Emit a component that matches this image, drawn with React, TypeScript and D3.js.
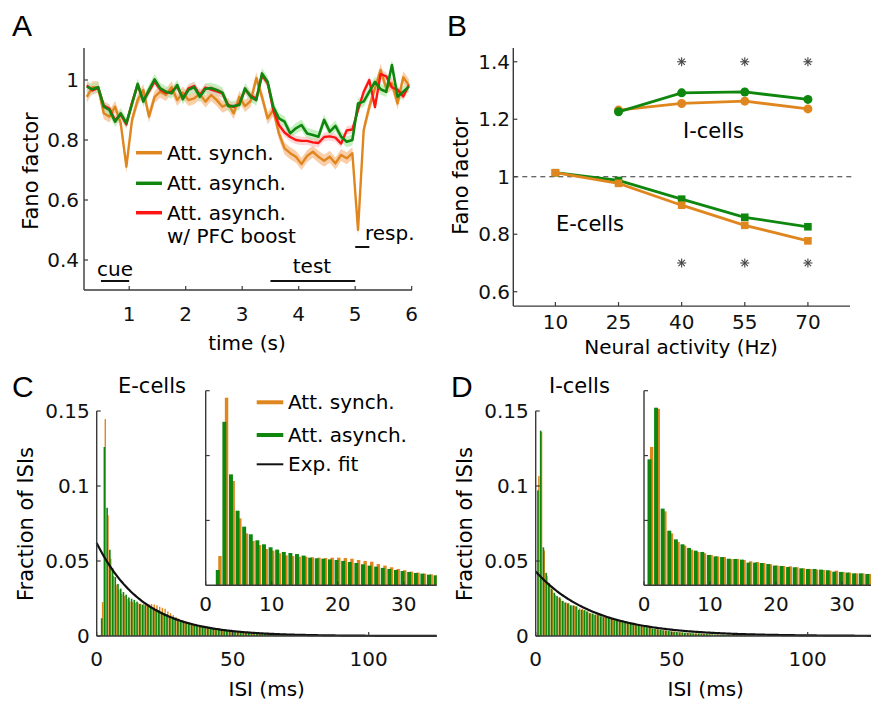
import React from 'react';
import * as d3 from 'd3';

const ORANGE = '#e0861f';
const GREEN = '#0f870f';
const RED = '#ff1414';
const AXIS = '#3a3a3a';
const FONT = 'DejaVu Sans, Verdana, sans-serif';
const LETTER_FONT = 'Liberation Sans, Arial, sans-serif';

// ---------- Panel A: Fano factor time course ----------
const timesA = [0.25, 0.35, 0.45, 0.55, 0.65, 0.75, 0.85, 0.95, 1.05, 1.15, 1.25, 1.35, 1.45, 1.55, 1.65, 1.75, 1.85, 1.95,
  2.05, 2.15, 2.25, 2.35, 2.45, 2.55, 2.65, 2.75, 2.85, 2.95, 3.05, 3.15, 3.25, 3.35, 3.45, 3.55, 3.65, 3.75, 3.85, 3.95,
  4.05, 4.15, 4.25, 4.35, 4.45, 4.55, 4.65, 4.75, 4.85, 4.95, 5.05, 5.15, 5.25, 5.35, 5.45, 5.55, 5.65, 5.75, 5.85, 5.95];
const synchA = [0.944, 0.976, 0.976, 0.889, 0.878, 0.911, 0.856, 0.711, 0.867, 0.933, 0.967, 0.878, 0.944, 0.961, 0.950, 0.976, 0.933, 0.958,
  0.933, 0.939, 0.953, 0.928, 0.950, 0.933, 0.911, 0.920, 0.889, 0.944, 0.913, 0.930, 1.006, 0.944, 0.872, 0.900, 0.822, 0.772, 0.756, 0.744,
  0.720, 0.747, 0.761, 0.744, 0.731, 0.744, 0.722, 0.750, 0.739, 0.756, 0.500, 0.833, 0.911, 0.972, 1.033, 0.972, 0.989, 0.922, 1.009, 0.983];
const asynchA = [0.978, 0.969, 0.976, 0.911, 0.900, 0.861, 0.889, 0.856, 0.920, 0.987, 0.928, 0.967, 1.002, 0.972, 0.961, 0.956, 0.983, 0.936,
  0.967, 0.976, 0.944, 0.971, 0.973, 0.967, 0.958, 0.913, 0.913, 0.917, 0.972, 0.944, 0.933, 1.022, 0.994, 0.911, 0.872, 0.861, 0.822, 0.839,
  0.850, 0.822, 0.817, 0.811, 0.867, 0.828, 0.847, 0.811, 0.794, 0.800, 0.922, 0.928, 0.961, 0.994, 0.969, 0.961, 1.050, 0.944, 0.961, 0.978];
const boostA = [0.982, 0.965, 0.974, 0.915, 0.905, 0.866, 0.885, 0.852, 0.925, 0.983, 0.932, 0.962, 0.995, 0.968, 0.957, 0.962, 0.978, 0.940,
  0.972, 0.980, 0.950, 0.975, 0.968, 0.962, 0.955, 0.917, 0.910, 0.921, 0.968, 0.948, 0.938, 1.015, 0.990, 0.900, 0.850, 0.825, 0.810, 0.800,
  0.797, 0.797, 0.792, 0.790, 0.810, 0.812, 0.808, 0.788, 0.832, 0.835, 0.900, 0.960, 1.000, 0.910, 1.020, 1.012, 0.975, 0.968, 0.945, 0.983];
const semSynch = 0.02;
const semAsynch = 0.018;
const semBoost = 0.014;
const ticksAx = [1, 2, 3, 4, 5, 6];
const ticksAy = [0.4, 0.6, 0.8, 1];
const legendA = ['Att. synch.', 'Att. asynch.', 'Att. asynch.'];

// ---------- Panel B: Fano factor vs rate ----------
const ratesE = [10, 25, 40, 55, 70];
const synchE = [1.014, 0.977, 0.901, 0.831, 0.777];
const asynchE = [1.014, 0.987, 0.922, 0.859, 0.826];
const errE = [0.004, 0.004, 0.005, 0.005, 0.005];
const ratesI = [25, 40, 55, 70];
const synchI = [1.232, 1.255, 1.263, 1.236];
const asynchI = [1.226, 1.292, 1.295, 1.269];
const errSynchI = [0.006, 0.012, 0.012, 0.011];
const errAsynchI = [0.006, 0.014, 0.014, 0.013];
const starRates = [40, 55, 70];
const starLevels = [1.4, 0.7];
const ticksBx = [10, 25, 40, 55, 70];
const ticksBy = [0.6, 0.8, 1, 1.2, 1.4];

// ---------- Panel C: E-cell ISI histograms (1 ms bins, bin k = index+1) ----------
const synchC = [0, 0.0226, 0.1446, 0.0804, 0.0516, 0.040, 0.0342, 0.031, 0.028, 0.0267, 0.0247, 0.0231, 0.0226, 0.0221, 0.0221,
  0.0216, 0.0213, 0.021, 0.0213, 0.0213, 0.021, 0.0205, 0.0195, 0.0188, 0.0182, 0.0164, 0.0152, 0.0139, 0.0126, 0.0116,
  0.0105, 0.0098, 0.009, 0.0085, 0.008, 0.0076, 0.0072, 0.0068, 0.0064, 0.006, 0.0056, 0.0052, 0.0049, 0.0046, 0.0043,
  0.004, 0.0037, 0.0035, 0.0033, 0.003, 0.0028, 0.0027, 0.0025, 0.0024, 0.0022, 0.0021, 0.0019, 0.0018, 0.0017, 0.0016,
  0.0015, 0.0014, 0.0013, 0.0012, 0.0011, 0.001, 0.00095, 0.0009, 0.00085, 0.0008, 0.00075, 0.0007, 0.00065, 0.0006, 0.00055,
  0.0005, 0.00045, 0.0004, 0.0004, 0.00035];
const asynchC = [0, 0.0118, 0.126, 0.0855, 0.0575, 0.0452, 0.0393, 0.0347, 0.0316, 0.0293, 0.0275, 0.0257, 0.0249, 0.0241, 0.0229,
  0.0213, 0.0208, 0.0205, 0.02, 0.0195, 0.0188, 0.018, 0.0172, 0.0162, 0.0152, 0.0144, 0.0134, 0.0126, 0.0118, 0.011,
  0.0103, 0.0095, 0.009, 0.0082, 0.0077, 0.0072, 0.0068, 0.0064, 0.006, 0.0056, 0.0053, 0.005, 0.0047, 0.0044, 0.0041,
  0.0039, 0.0036, 0.0034, 0.0032, 0.003, 0.0028, 0.0026, 0.0025, 0.0023, 0.0022, 0.002, 0.0019, 0.0018, 0.0017, 0.0016,
  0.0015, 0.0014, 0.0013, 0.0012, 0.0011, 0.001, 0.00095, 0.0009, 0.00085, 0.0008, 0.00075, 0.0007, 0.00065, 0.0006, 0.00055,
  0.0005, 0.00045, 0.0004, 0.0004, 0.00035];
const fitAmpC = 0.062;
const fitTauC = 17;

// ---------- Panel D: I-cell ISI histograms ----------
const synchD = [0.1066, 0.136, 0.057, 0.040, 0.0334, 0.0306, 0.0275, 0.0257, 0.0247, 0.0234, 0.0223, 0.0218, 0.0203, 0.0203, 0.0195,
  0.0185, 0.018, 0.0172, 0.0162, 0.0152, 0.0149, 0.0146, 0.0139, 0.0131, 0.0126, 0.0121, 0.0118, 0.0113, 0.0113, 0.0103,
  0.0098, 0.0092, 0.0092, 0.0087, 0.0085, 0.008, 0.0075, 0.007, 0.0066, 0.0062, 0.0058, 0.0054, 0.005, 0.0047, 0.0044,
  0.0041, 0.0038, 0.0036, 0.0033, 0.0031, 0.0029, 0.0027, 0.0025, 0.0024, 0.0022, 0.0021, 0.0019, 0.0018, 0.0017, 0.0016,
  0.0015, 0.0014, 0.0013, 0.0012, 0.0011, 0.001, 0.00095, 0.0009, 0.00085, 0.0008, 0.00075, 0.0007, 0.00065, 0.0006, 0.00055,
  0.0005, 0.00045, 0.0004, 0.0004, 0.00035];
const asynchD = [0.0971, 0.1369, 0.0591, 0.0421, 0.0354, 0.0316, 0.0288, 0.0267, 0.0257, 0.0234, 0.0223, 0.0218, 0.0205, 0.0203, 0.0198,
  0.0175, 0.0175, 0.0172, 0.0164, 0.0152, 0.0149, 0.0141, 0.0139, 0.0131, 0.0126, 0.0126, 0.0121, 0.0116, 0.0105, 0.0103,
  0.0098, 0.0092, 0.0092, 0.0087, 0.0085, 0.008, 0.0075, 0.007, 0.0066, 0.0062, 0.0058, 0.0054, 0.005, 0.0047, 0.0044,
  0.0041, 0.0038, 0.0036, 0.0033, 0.0031, 0.0029, 0.0027, 0.0025, 0.0024, 0.0022, 0.0021, 0.0019, 0.0018, 0.0017, 0.0016,
  0.0015, 0.0014, 0.0013, 0.0012, 0.0011, 0.001, 0.00095, 0.0009, 0.00085, 0.0008, 0.00075, 0.0007, 0.00065, 0.0006, 0.00055,
  0.0005, 0.00045, 0.0004, 0.0004, 0.00035];
const fitAmpD = 0.043;
const fitTauD = 21.5;

const ticksHistX = [0, 50, 100];
const ticksHistY = [0, 0.05, 0.1, 0.15];
const ticksInsetX = [0, 10, 20, 30];
const ticksInsetY = [0.05, 0.1, 0.15];
const legendC = ['Att. synch.', 'Att. asynch.', 'Exp. fit'];

type Lin = d3.ScaleLinear<number, number>;

function fmt(v: number) {
  return String(v);
}

function YAxis({ x, y, ticks, top, bottom, labels = true, labelX, fs = 20 }:
  { x: number; y: Lin; ticks: number[]; top: number; bottom: number; labels?: boolean; labelX?: number; fs?: number }) {
  return (
    <g>
      <line x1={x} x2={x} y1={top} y2={bottom} stroke={AXIS} strokeWidth={1.4} />
      {ticks.map((t) => (
        <g key={t}>
          <line x1={x} x2={x + 4} y1={y(t)} y2={y(t)} stroke={AXIS} strokeWidth={1.2} />
          {labels && (
            <text x={labelX ?? x - 5} y={y(t) + 7} textAnchor="end" fontSize={fs} fontFamily={FONT} fill="#111">
              {fmt(t)}
            </text>
          )}
        </g>
      ))}
    </g>
  );
}

function XAxis({ y0, x, ticks, left, right, labelY, fs = 20 }:
  { y0: number; x: Lin; ticks: number[]; left: number; right: number; labelY: number; fs?: number }) {
  return (
    <g>
      <line x1={left} x2={right} y1={y0} y2={y0} stroke={AXIS} strokeWidth={1.4} />
      {ticks.map((t) => (
        <g key={t}>
          <line x1={x(t)} x2={x(t)} y1={y0} y2={y0 - 4} stroke={AXIS} strokeWidth={1.2} />
          <text x={x(t)} y={labelY} textAnchor="middle" fontSize={fs} fontFamily={FONT} fill="#111">
            {fmt(t)}
          </text>
        </g>
      ))}
    </g>
  );
}

function PanelA() {
  const x = d3.scaleLinear().domain([0.2, 6]).range([84, 411.7]);
  const y = d3.scaleLinear().domain([0.3, 1.1]).range([290, 50]);
  const line = d3.line<number>().x((_, i) => x(timesA[i])).y((d) => y(d));
  const area = (sem: number) =>
    d3.area<number>().x((_, i) => x(timesA[i])).y0((d) => y(d - sem)).y1((d) => y(d + sem));
  const legColors = [ORANGE, GREEN, RED];
  const legY = [152.7, 183.3, 212.7];
  return (
    <g>
      <text x={12} y={36} fontSize={30} fontFamily={LETTER_FONT}>A</text>
      <path d={area(semSynch)(synchA) || ''} fill="#f8c59a" opacity={0.85} />
      <path d={area(semAsynch)(asynchA) || ''} fill="#b2ecab" opacity={0.75} />
      <path d={area(semBoost)(boostA) || ''} fill="#f7bcbc" opacity={0.6} />
      <path d={line(synchA) || ''} fill="none" stroke={ORANGE} strokeWidth={2.4} strokeLinejoin="round" />
      <path d={line(boostA) || ''} fill="none" stroke={RED} strokeWidth={2.4} strokeLinejoin="round" />
      <path d={line(asynchA) || ''} fill="none" stroke={GREEN} strokeWidth={2.6} strokeLinejoin="round" />
      <YAxis x={84} y={y} ticks={ticksAy} top={48} bottom={290} labelX={79} />
      <XAxis y0={290} x={x} ticks={ticksAx} left={84} right={412} labelY={321} />
      <text x={247} y={350} textAnchor="middle" fontSize={20} fontFamily={FONT}>time (s)</text>
      <text transform="translate(38,171) rotate(-90)" textAnchor="middle" fontSize={21} fontFamily={FONT}>Fano factor</text>
      {legendA.map((t, i) => (
        <g key={i}>
          <line x1={136} x2={162} y1={legY[i]} y2={legY[i]} stroke={legColors[i]} strokeWidth={3.5} />
          <text x={167} y={legY[i] + 7} fontSize={20} fontFamily={FONT}>{t}</text>
        </g>
      ))}
      <text x={167} y={243} fontSize={20} fontFamily={FONT}>w/ PFC boost</text>
      {/* epoch markers */}
      <text x={(x(0.5) + x(1.0)) / 2} y={276} textAnchor="middle" fontSize={20} fontFamily={FONT}>cue</text>
      <line x1={x(0.5)} x2={x(1.0)} y1={281} y2={281} stroke="#111" strokeWidth={2} />
      <text x={312} y={273} textAnchor="middle" fontSize={20} fontFamily={FONT}>test</text>
      <line x1={x(3.5)} x2={x(5.0)} y1={281} y2={281} stroke="#111" strokeWidth={2} />
      <text x={365} y={240} fontSize={20} fontFamily={FONT}>resp.</text>
      <line x1={x(5.0)} x2={x(5.25)} y1={247} y2={247} stroke="#111" strokeWidth={2} />
    </g>
  );
}

function Star({ cx, cy }: { cx: number; cy: number }) {
  const r = 4.5;
  return (
    <g stroke="#444" strokeWidth={1.1}>
      {[0, 45, 90, 135].map((a) => {
        const rad = (a * Math.PI) / 180;
        return <line key={a} x1={cx - r * Math.cos(rad)} y1={cy - r * Math.sin(rad)} x2={cx + r * Math.cos(rad)} y2={cy + r * Math.sin(rad)} />;
      })}
    </g>
  );
}

function PanelB() {
  const x = d3.scaleLinear().domain([0, 80]).range([513.3, 850]);
  const y = d3.scaleLinear().domain([0.55, 1.45]).range([306.1, 47.4]);
  const lineE = d3.line<number>().x((_, i) => x(ratesE[i])).y((d) => y(d));
  const lineI = d3.line<number>().x((_, i) => x(ratesI[i])).y((d) => y(d));
  const squares = (vals: number[], errs: number[], color: string) =>
    vals.map((v, i) => (
      <g key={i}>
        <line x1={x(ratesE[i])} x2={x(ratesE[i])} y1={y(v - errs[i])} y2={y(v + errs[i])} stroke={color} strokeWidth={2} />
        <rect x={x(ratesE[i]) - 3.8} y={y(v) - 3.8} width={7.6} height={7.6} fill={color} />
      </g>
    ));
  const circles = (vals: number[], errs: number[], color: string) =>
    vals.map((v, i) => (
      <g key={i}>
        <line x1={x(ratesI[i])} x2={x(ratesI[i])} y1={y(v - errs[i])} y2={y(v + errs[i])} stroke={color} strokeWidth={2} />
        <circle cx={x(ratesI[i])} cy={y(v)} r={4.5} fill={color} />
      </g>
    ));
  return (
    <g>
      <text x={447} y={36} fontSize={30} fontFamily={LETTER_FONT}>B</text>
      <line x1={513.3} x2={852} y1={y(1)} y2={y(1)} stroke="#333" strokeWidth={1} strokeDasharray="5,4" />
      <path d={lineE(asynchE) || ''} fill="none" stroke={GREEN} strokeWidth={2.8} />
      {squares(asynchE, errE, GREEN)}
      <path d={lineE(synchE) || ''} fill="none" stroke={ORANGE} strokeWidth={2.8} />
      {squares(synchE, errE, ORANGE)}
      <path d={lineI(synchI) || ''} fill="none" stroke={ORANGE} strokeWidth={2.8} />
      {circles(synchI, errSynchI, ORANGE)}
      <path d={lineI(asynchI) || ''} fill="none" stroke={GREEN} strokeWidth={2.8} />
      {circles(asynchI, errAsynchI, GREEN)}
      {starLevels.map((lv) => starRates.map((r) => <Star key={`${lv}-${r}`} cx={x(r)} cy={y(lv)} />))}
      <text x={683} y={138} fontSize={21} fontFamily={FONT}>I-cells</text>
      <text x={556} y={231} fontSize={21} fontFamily={FONT}>E-cells</text>
      <YAxis x={513.3} y={y} ticks={ticksBy} top={48} bottom={306.1} labelX={510} />
      <XAxis y0={306.1} x={x} ticks={ticksBx} left={513.3} right={850} labelY={329} />
      <text x={681} y={354} textAnchor="middle" fontSize={20} fontFamily={FONT}>Neural activity (Hz)</text>
      <text transform="translate(468,176) rotate(-90)" textAnchor="middle" fontSize={21} fontFamily={FONT}>Fano factor</text>
    </g>
  );
}

function Bars({ synch, asynch, x, y, maxK }: { synch: number[]; asynch: number[]; x: Lin; y: Lin; maxK: number }) {
  const base = y(0);
  const out: React.ReactNode[] = [];
  synch.forEach((v, i) => {
    const k = i + 1;
    if (k > maxK || v <= 0) return;
    out.push(<rect key={`o${k}`} x={x(k - 0.1)} y={y(v)} width={x(k + 0.42) - x(k - 0.1)} height={base - y(v)} fill={ORANGE} />);
  });
  asynch.forEach((v, i) => {
    const k = i + 1;
    if (k > maxK || v <= 0) return;
    out.push(<rect key={`g${k}`} x={x(k - 0.47)} y={y(v)} width={x(k + 0.13) - x(k - 0.47)} height={base - y(v)} fill={GREEN} />);
  });
  return <g>{out}</g>;
}

function HistPanel({ ox, letter, cellLabel, synch, asynch, fitAmp, fitTau, showLegend }:
  { ox: number; letter: string; cellLabel: string; synch: number[]; asynch: number[]; fitAmp: number; fitTau: number; showLegend: boolean }) {
  const x0 = 96.7 + ox;
  const x = d3.scaleLinear().domain([0, 125]).range([x0, x0 + 340]);
  const y = d3.scaleLinear().domain([0, 0.15]).range([636, 411]);
  const xi0 = 205.7 + ox - (ox ? 0.7 : 0);
  const xi = d3.scaleLinear().domain([0, 35]).range([xi0, xi0 + 231]);
  const yi = d3.scaleLinear().domain([0, 0.15]).range([585.3, 390.7]);
  const fitX = d3.range(0, 125.01, 0.5);
  const fitLine = d3.line<number>().x((d) => x(d)).y((d) => y(fitAmp * Math.exp(-d / fitTau)));
  const legColors = [ORANGE, GREEN, '#111'];
  const legY = [402.3, 435, 464.3];
  const clipId = `clip${letter}`;
  return (
    <g>
      <defs>
        <clipPath id={clipId}>
          <rect x={xi(0) - 2} y={380} width={xi(35) - xi(0) + 2} height={210} />
        </clipPath>
      </defs>
      <text x={12 + ox} y={397} fontSize={30} fontFamily={LETTER_FONT}>{letter}</text>
      <text x={118 + ox + (ox ? -8 : 0)} y={393} fontSize={21} fontFamily={FONT}>{cellLabel}</text>
      <Bars synch={synch} asynch={asynch} x={x} y={y} maxK={125} />
      <path d={fitLine(fitX) || ''} fill="none" stroke="#111" strokeWidth={2.2} />
      <YAxis x={x0} y={y} ticks={ticksHistY} top={411} bottom={636} labelX={x0 - 7} />
      <XAxis y0={636} x={x} ticks={ticksHistX} left={x0} right={x0 + 340} labelY={666} />
      <text x={x0 + 170} y={696} textAnchor="middle" fontSize={20} fontFamily={FONT}>ISI (ms)</text>
      <text transform={`translate(${33 + ox},524) rotate(-90)`} textAnchor="middle" fontSize={21} fontFamily={FONT}>Fraction of ISIs</text>
      {/* inset */}
      <g clipPath={`url(#${clipId})`}>
        <Bars synch={synch} asynch={asynch} x={xi} y={yi} maxK={36} />
      </g>
      <YAxis x={xi(0)} y={yi} ticks={ticksInsetY} top={390.7} bottom={585.3} labels={false} />
      <XAxis y0={585.3} x={xi} ticks={ticksInsetX} left={xi(0)} right={xi(35)} labelY={611} />
      {showLegend && legendC.map((t, i) => (
        <g key={i}>
          <line x1={256.7 + ox} x2={283.3 + ox} y1={legY[i]} y2={legY[i]} stroke={legColors[i]} strokeWidth={i === 2 ? 2 : 4} />
          <text x={288 + ox} y={legY[i] + 7} fontSize={20} fontFamily={FONT}>{t}</text>
        </g>
      ))}
    </g>
  );
}

export default function App() {
  return (
    <svg width={871} height={705} viewBox="0 0 871 705"
      style={{ position: 'absolute', left: 0, top: 0, background: '#fff', display: 'block' }}>
      <rect x={0} y={0} width={871} height={705} fill="#fff" />
      <PanelA />
      <PanelB />
      <HistPanel ox={0} letter="C" cellLabel="E-cells" synch={synchC} asynch={asynchC} fitAmp={fitAmpC} fitTau={fitTauC} showLegend={true} />
      <HistPanel ox={439} letter="D" cellLabel="I-cells" synch={synchD} asynch={asynchD} fitAmp={fitAmpD} fitTau={fitTauD} showLegend={false} />
    </svg>
  );
}
